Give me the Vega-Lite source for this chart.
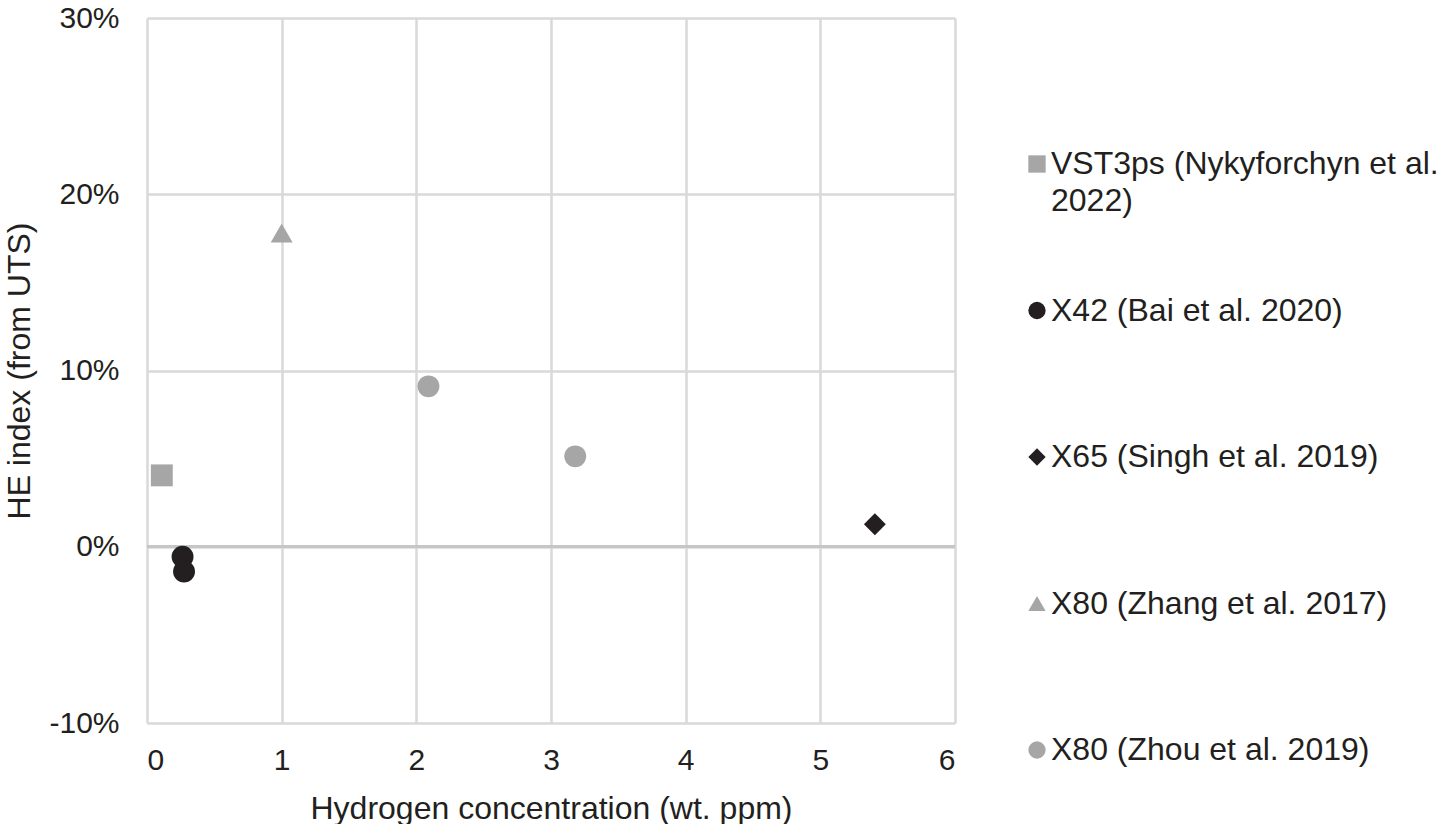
{
  "$schema": "https://vega.github.io/schema/vega-lite/v6.json",
  "background": "white",
  "padding": {"left": 3, "top": 3, "right": 0, "bottom": 0},
  "bounds": "flush",
  "spacing": 72,
  "config": {
    "font": "Liberation Sans",
    "view": {"stroke": null},
    "axis": {"labelColor": "#231f20", "titleColor": "#231f20", "labelFont": "Liberation Sans", "titleFont": "Liberation Sans", "titleFontWeight": "normal"}
  },
  "datasets": {
    "points": [
      {"series": "VST3ps (Nykyforchyn et al. 2022)", "h": 0.11, "he": 0.0405},
      {"series": "X42 (Bai et al. 2020)", "h": 0.264, "he": -0.0057},
      {"series": "X42 (Bai et al. 2020)", "h": 0.275, "he": -0.0140},
      {"series": "X65 (Singh et al. 2019)", "h": 5.405, "he": 0.0128},
      {"series": "X80 (Zhang et al. 2017)", "h": 1.0, "he": 0.178},
      {"series": "X80 (Zhou et al. 2019)", "h": 2.09, "he": 0.091},
      {"series": "X80 (Zhou et al. 2019)", "h": 3.18, "he": 0.0513}
    ],
    "legend": [
      {"series": "VST3ps (Nykyforchyn et al. 2022)", "label": "VST3ps (Nykyforchyn et al.|2022)"},
      {"series": "X42 (Bai et al. 2020)", "label": "X42 (Bai et al. 2020)"},
      {"series": "X65 (Singh et al. 2019)", "label": "X65 (Singh et al. 2019)"},
      {"series": "X80 (Zhang et al. 2017)", "label": "X80 (Zhang et al. 2017)"},
      {"series": "X80 (Zhou et al. 2019)", "label": "X80 (Zhou et al. 2019)"}
    ]
  },
  "hconcat": [
    {
      "width": 808,
      "height": 705,
      "data": {"name": "points"},
      "layer": [
        {
          "mark": {"type": "rule", "color": "#c6c6c6", "strokeWidth": 2.5},
          "encoding": {"y": {"datum": 0, "type": "quantitative", "scale": {"domain": [-0.1, 0.3]}}}
        },
        {
          "mark": {"type": "point", "filled": true, "opacity": 1, "size": 480},
          "encoding": {
            "x": {
              "field": "h", "type": "quantitative",
              "scale": {"domain": [0, 6], "nice": false, "zero": false},
              "axis": {
                "title": "Hydrogen concentration (wt. ppm)",
                "values": [0, 1, 2, 3, 4, 5, 6],
                "grid": true, "gridColor": "#d9d9d9", "gridWidth": 2.5,
                "domain": false, "ticks": false,
                "labelFontSize": 30, "labelPadding": 22,
                "titleFontSize": 32, "titlePadding": 18
              }
            },
            "y": {
              "field": "he", "type": "quantitative",
              "scale": {"domain": [-0.1, 0.3], "nice": false, "zero": false},
              "axis": {
                "title": "HE index (from UTS)",
                "values": [-0.1, 0, 0.1, 0.2, 0.3],
                "format": ".0%",
                "labelExpr": "replace(datum.label, '−', '-')",
                "grid": true, "gridColor": "#d9d9d9", "gridWidth": 2.5,
                "domain": false, "ticks": false,
                "labelFontSize": 30, "labelPadding": 28,
                "titleFontSize": 32, "titlePadding": 12
              }
            },
            "shape": {
              "field": "series", "type": "nominal",
              "scale": {
                "domain": ["VST3ps (Nykyforchyn et al. 2022)", "X42 (Bai et al. 2020)", "X65 (Singh et al. 2019)", "X80 (Zhang et al. 2017)", "X80 (Zhou et al. 2019)"],
                "range": ["square", "circle", "diamond", "triangle-up", "circle"]
              },
              "legend": null
            },
            "color": {
              "field": "series", "type": "nominal",
              "scale": {
                "domain": ["VST3ps (Nykyforchyn et al. 2022)", "X42 (Bai et al. 2020)", "X65 (Singh et al. 2019)", "X80 (Zhang et al. 2017)", "X80 (Zhou et al. 2019)"],
                "range": ["#a6a6a6", "#231f20", "#231f20", "#a6a6a6", "#a6a6a6"]
              },
              "legend": null
            }
          }
        }
      ]
    },
    {
      "width": 20,
      "height": 705,
      "data": {"name": "legend"},
      "encoding": {
        "y": {
          "field": "series", "type": "nominal",
          "scale": {"type": "point", "range": [146, 732], "padding": 0,
            "domain": ["VST3ps (Nykyforchyn et al. 2022)", "X42 (Bai et al. 2020)", "X65 (Singh et al. 2019)", "X80 (Zhang et al. 2017)", "X80 (Zhou et al. 2019)"]},
          "axis": null
        }
      },
      "layer": [
        {
          "mark": {"type": "point", "filled": true, "opacity": 1, "size": 300},
          "encoding": {
            "shape": {"field": "series", "type": "nominal", "legend": null},
            "color": {"field": "series", "type": "nominal", "legend": null}
          }
        },
        {
          "mark": {"type": "text", "align": "left", "baseline": "alphabetic", "dx": 14, "dy": 10, "fontSize": 32, "lineBreak": "|", "lineHeight": 37, "color": "#231f20", "font": "Liberation Sans"},
          "encoding": {"text": {"field": "label", "type": "nominal"}}
        }
      ]
    }
  ]
}
